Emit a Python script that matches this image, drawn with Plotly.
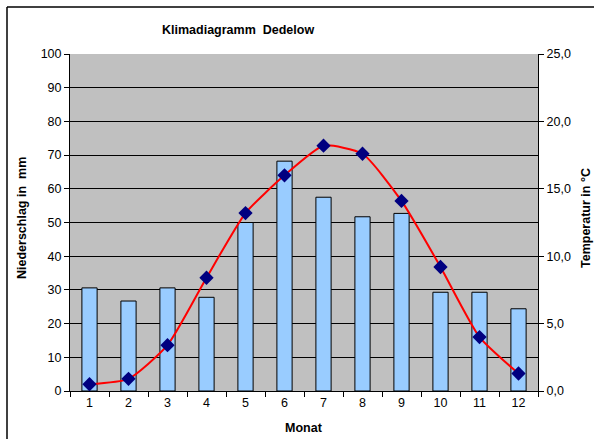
import plotly.graph_objects as go

# Monthly climate data for Dedelow
months = [str(m) for m in range(1, 13)]
precip_mm = [30.6, 26.7, 30.6, 27.8, 50.0, 68.2, 57.5, 51.7, 52.7, 29.3, 29.3, 24.4]
temp_c = [0.5, 0.9, 3.4, 8.4, 13.2, 16.0, 18.2, 17.6, 14.1, 9.2, 4.0, 1.3]

font_family = "Liberation Sans, Arial, sans-serif"
tick_size = 12.5
title_size = 12.5

fig = go.Figure()

fig.add_trace(go.Bar(
    x=months, y=precip_mm, name="Niederschlag",
    marker=dict(color="#99CCFF", line=dict(color="black", width=1)),
    width=0.39,
))

fig.add_trace(go.Scatter(
    x=months, y=temp_c, name="Temperatur", yaxis="y2",
    mode="lines+markers",
    line=dict(color="#FF0000", width=2, shape="spline", smoothing=0.55),
    marker=dict(symbol="diamond", size=11, color="#000080"),
))

fig.update_layout(
    width=594, height=439,
    margin=dict(l=70, r=56, t=54, b=48),
    paper_bgcolor="white",
    plot_bgcolor="#C0C0C0",
    showlegend=False,
    separators=",.",
    font=dict(family=font_family, size=tick_size, color="black"),
    xaxis=dict(
        type="category",
        range=[-0.5, len(months) - 0.5],
        tickson="boundaries",
        ticks="outside", ticklen=5, tickcolor="black",
        showline=True, linecolor="black", linewidth=1,
        showgrid=False,
        tickfont=dict(size=tick_size),
    ),
    yaxis=dict(
        range=[0, 100], dtick=10,
        ticks="outside", ticklen=5, tickcolor="black",
        showline=True, linecolor="black", linewidth=1,
        showgrid=True, gridcolor="black", gridwidth=1,
        zeroline=False,
        tickfont=dict(size=tick_size),
    ),
    yaxis2=dict(
        range=[0, 25], dtick=5, tickformat=".1f",
        overlaying="y", side="right",
        ticks="outside", ticklen=5, tickcolor="black",
        showline=True, linecolor="black", linewidth=1,
        showgrid=False, zeroline=False,
        tickfont=dict(size=tick_size),
    ),
    annotations=[
        dict(text="<b>Klimadiagramm  Dedelow</b>", x=238, y=30,
             showarrow=False, font=dict(size=title_size)),
        dict(text="<b>Niederschlag in  mm</b>", x=22, y=218,
             textangle=-90, showarrow=False, font=dict(size=title_size)),
        dict(text="<b>Temperatur in °C</b>", x=586, y=218,
             textangle=-90, showarrow=False, font=dict(size=title_size)),
        dict(text="<b>Monat</b>", x=304, y=428,
             showarrow=False, font=dict(size=title_size)),
    ],
)

# Position free-standing labels in pixel space
W, H = 594, 439
for a in fig.layout.annotations:
    a.xref = "paper"
    a.yref = "paper"
    a.x = (a.x - 70) / (W - 70 - 56)
    a.y = (H - 48 - a.y) / (H - 54 - 48)
    a.xanchor = "center"
    a.yanchor = "middle"

# Chart frame (left and top edges)
fig.add_shape(type="line", xref="paper", yref="paper",
              x0=(7 - 70) / (W - 126), x1=(W + 10 - 70) / (W - 126),
              y0=(H - 48 - 7) / (H - 102), y1=(H - 48 - 7) / (H - 102),
              line=dict(color="black", width=1.5))
fig.add_shape(type="line", xref="paper", yref="paper",
              x0=(7 - 70) / (W - 126), x1=(7 - 70) / (W - 126),
              y0=(H - 48 - 7) / (H - 102), y1=(H - 48 - H - 10) / (H - 102),
              line=dict(color="black", width=1.5))

fig.write_html("out.html")
